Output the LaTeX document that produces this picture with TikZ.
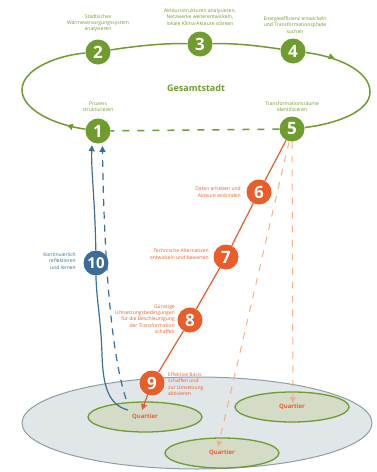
\documentclass[tikz,border=0pt]{standalone}
\usepackage{fontspec}
\setmainfont{Open Sans}
\usetikzlibrary{arrows.meta,shapes.geometric,decorations.markings}
\definecolor{gr}{HTML}{6E9C2F}
\definecolor{org}{HTML}{E85D2A}
\definecolor{lorg}{HTML}{F4B08C}
\definecolor{blu}{HTML}{3C6D98}
\definecolor{grayf}{HTML}{E1E6E9}
\definecolor{grayb}{HTML}{8E9DA6}
\definecolor{qf}{HTML}{D4DCC8}
\pgfdeclarelayer{bg}
\pgfdeclarelayer{lines}
\pgfsetlayers{bg,lines,main}
\begin{document}
\begin{tikzpicture}[x=1pt,y=-1pt,
  num/.style={circle,fill=#1,text=white,minimum size=25pt,inner sep=0pt,
    font=\fontsize{17}{17}\selectfont\bfseries},
  lbl/.style={font=\fontsize{5}{6.3}\selectfont,text=#1,inner sep=0pt},
  quart/.style={ellipse,draw=gr,fill=qf,line width=1.3pt,minimum width=114pt,
    minimum height=30pt,inner sep=0pt,text=org,font=\fontsize{6}{6}\selectfont\bfseries},
  gloop/.style={draw=gr,line width=1.5pt},
  osolid/.style={draw=org,line width=1.2pt},
  odash/.style={draw=lorg,line width=1pt,dash pattern=on 7pt off 7pt},
  bsolid/.style={draw=blu,line width=1.2pt},
  bdash/.style={draw=blu,line width=1.2pt,dash pattern=on 7pt off 6pt},
  tip/.style={-{Triangle[length=6pt,width=6pt]}}
]
\path[use as bounding box] (0,0) rectangle (376,472);

% city base
\begin{pgfonlayer}{bg}
\node[ellipse,draw=grayb,fill=grayf,line width=1pt,minimum width=350pt,minimum height=92pt] (stadt) at (197,423) {};
\node[quart] (q1) at (145,417) {Quartier};
\node[quart] (q2) at (292,407) {Quartier};
\node[quart] (q3) at (222,453) {Quartier};
\end{pgfonlayer}
\coordinate (t1) at (142,410);
\coordinate (t2) at (293,403);
\coordinate (t3) at (218,447);
\coordinate (bs) at (128,410);
\coordinate (bd) at (126,399);

% numbered circles
\node[num=gr] (n1) at (98,131) {1};
\node[num=gr] (n2) at (98,52) {2};
\node[num=gr] (n3) at (200,44) {3};
\node[num=gr] (n4) at (293,51) {4};
\node[num=gr] (n5) at (292,129) {5};
\node[num=org] (n6) at (259,192) {6};
\node[num=org] (n7) at (226,257) {7};
\node[num=org] (n8) at (190,320) {8};
\node[num=org] (n9) at (152,383) {9};
\node[num=blu,font=\fontsize{15}{15}\selectfont\bfseries] (n10) at (96,263) {10};

\begin{pgfonlayer}{lines}
% loop Gesamtstadt
\draw[gloop,postaction={decorate},decoration={markings,mark=at position 0.12 with {\arrow{Triangle[length=6pt,width=6pt]}}}]
  (n1) .. controls (50,124) and (22,108) .. (22,90) .. controls (22,68) and (60,55) .. (n2);
\draw[gloop] (n2) .. controls (135,46) and (165,43) .. (n3);
\draw[gloop] (n3) .. controls (235,43) and (260,46) .. (n4);
\draw[gloop] (n4) .. controls (335,56) and (370,70) .. (370,92) .. controls (370,112) and (335,124) .. (n5);
\path[postaction={decorate},decoration={markings,mark=at position 0.55 with {\arrow[gr]{Triangle[length=6pt,width=6pt]}}}]
  (n4) .. controls (325,54) and (345,60) .. (356,70);
\draw[gloop,dash pattern=on 7pt off 8pt] (n5) -- (n1);

% orange paths
\draw[osolid] (n5) -- (n6);
\draw[osolid] (n6) -- (n7);
\draw[osolid] (n7) -- (n8);
\draw[osolid] (n8) -- (n9);
\draw[osolid,tip] (n9) -- (t1);
\draw[odash,tip] (n5) -- (t3);
\draw[odash,tip] (n5) -- (t2);

% blue paths
\draw[bsolid] (bs) .. controls (108,405) and (103,385) .. (102,355) .. controls (101,320) and (96,295) .. (n10);
\draw[bsolid,tip,shorten >=3pt] (n10) .. controls (95,200) and (91,170) .. (n1.-118);
\draw[bdash,tip,shorten >=3pt] (bd) .. controls (110,350) and (104,250) .. (n1.-70);
\end{pgfonlayer}

% labels
\node[font=\fontsize{9}{10}\selectfont\bfseries,text=gr] (gs) at (196,88) {Gesamtstadt};
\node[lbl=gr,align=center] (l1) at (98,106.5) {Prozess\\strukturieren};
\node[lbl=gr,align=center] (l2) at (98,23) {Städtisches\\Wärmeversorgungssystem\\analysieren};
\node[lbl=gr,align=center] (l3) at (200,17) {Akteursstrukturen analysieren,\\Netzwerke weiterentwickeln,\\lokale Klima-Akteure stärken};
\node[lbl=gr,align=center] (l4) at (295,25) {Energieeffizienz entwickeln\\und Transformationspfade\\suchen};
\node[lbl=gr,align=center] (l5) at (292,106.5) {Transformationsräume\\identifizieren};
\node[lbl=org,align=right,anchor=east] (l6) at (241,192) {Daten erheben und\\Akteure einbinden};
\node[lbl=org,align=right,anchor=east] (l7) at (209,254) {Technische Alternativen\\entwickeln und bewerten};
\node[lbl=org,align=right,anchor=east] (l8) at (175,319) {Günstige\\Umsetzungsbedingungen\\für die Beschleunigung\\der Transformation\\schaffen};
\node[lbl=org,align=left,anchor=west] (l9) at (168,384) {Effektive Basis\\schaffen und\\zur Umsetzung\\aktivieren};
\node[lbl=blu,align=right,anchor=east] (l10) at (76,261) {Kontinuierlich\\reflektieren\\und lernen};
\end{tikzpicture}
\end{document}
